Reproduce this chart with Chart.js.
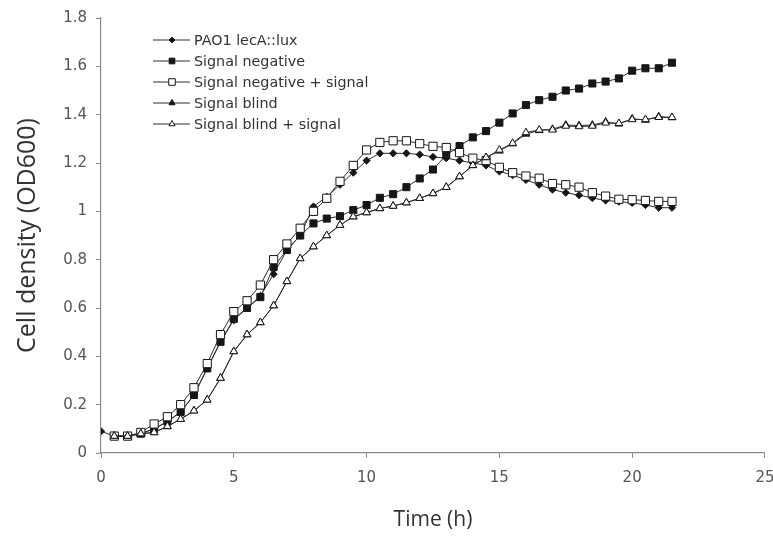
<!DOCTYPE html>
<html>
<head>
<meta charset="utf-8">
<script src="https://cdn.jsdelivr.net/npm/chart.js@4/dist/chart.umd.min.js"></script>
<style>
  html, body { margin: 0; padding: 0; background: #ffffff; }
  #wrap { width: 773px; height: 537px; }
</style>
</head>
<body>
<div id="wrap"><canvas id="growth" width="773" height="537"></canvas></div>
<script>
// Sampling times (h)
const timesWithZero = [0, 0.5, 1, 1.5, 2, 2.5, 3, 3.5, 4, 4.5, 5, 5.5, 6, 6.5, 7, 7.5, 8, 8.5, 9, 9.5, 10, 10.5,
  11, 11.5, 12, 12.5, 13, 13.5, 14, 14.5, 15, 15.5, 16, 16.5, 17, 17.5, 18, 18.5, 19, 19.5, 20, 20.5, 21, 21.5];
const times = [0.5, 1, 1.5, 2, 2.5, 3, 3.5, 4, 4.5, 5, 5.5, 6, 6.5, 7, 7.5, 8, 8.5, 9, 9.5, 10, 10.5,
  11, 11.5, 12, 12.5, 13, 13.5, 14, 14.5, 15, 15.5, 16, 16.5, 17, 17.5, 18, 18.5, 19, 19.5, 20, 20.5, 21, 21.5];

// OD600 readings
const pao1LecALux = [0.09, 0.07, 0.07, 0.08, 0.10, 0.13, 0.17, 0.24, 0.35, 0.46, 0.55, 0.60, 0.65, 0.74, 0.84, 0.90,
  1.02, 1.06, 1.11, 1.16, 1.21, 1.24, 1.24, 1.24, 1.235, 1.225, 1.22, 1.21, 1.20, 1.19, 1.165, 1.15, 1.13, 1.11,
  1.09, 1.077, 1.067, 1.055, 1.045, 1.04, 1.035, 1.026, 1.015, 1.015];
const signalNegative = [0.07, 0.07, 0.08, 0.10, 0.13, 0.17, 0.24, 0.35, 0.46, 0.555, 0.60, 0.645, 0.77, 0.84, 0.90,
  0.95, 0.97, 0.98, 1.005, 1.026, 1.056, 1.071, 1.10, 1.136, 1.173, 1.233, 1.27, 1.306, 1.332, 1.367, 1.405, 1.44,
  1.46, 1.474, 1.50, 1.508, 1.529, 1.537, 1.55, 1.582, 1.592, 1.592, 1.615];
const signalNegativePlus = [0.07, 0.07, 0.085, 0.12, 0.15, 0.20, 0.27, 0.37, 0.49, 0.585, 0.63, 0.695, 0.80, 0.865,
  0.93, 1.00, 1.054, 1.124, 1.19, 1.254, 1.285, 1.292, 1.292, 1.28, 1.269, 1.264, 1.243, 1.22, 1.21, 1.182, 1.16,
  1.146, 1.137, 1.115, 1.11, 1.10, 1.077, 1.063, 1.05, 1.048, 1.045, 1.041, 1.041];
const signalBlind = [0.07, 0.07, 0.08, 0.085, 0.11, 0.14, 0.175, 0.22, 0.31, 0.42, 0.49, 0.54, 0.61, 0.71, 0.805,
  0.854, 0.90, 0.943, 0.978, 0.995, 1.012, 1.022, 1.036, 1.054, 1.074, 1.10, 1.144, 1.19, 1.223, 1.25, 1.28, 1.32,
  1.335, 1.34, 1.357, 1.355, 1.357, 1.37, 1.362, 1.383, 1.378, 1.392, 1.388];
const signalBlindPlus = [0.07, 0.07, 0.08, 0.085, 0.11, 0.14, 0.175, 0.22, 0.31, 0.42, 0.49, 0.54, 0.61, 0.71, 0.805,
  0.854, 0.90, 0.943, 0.978, 0.995, 1.012, 1.022, 1.036, 1.054, 1.074, 1.10, 1.144, 1.19, 1.223, 1.254, 1.282, 1.326,
  1.337, 1.337, 1.353, 1.351, 1.353, 1.366, 1.364, 1.38, 1.38, 1.389, 1.389];

const seriesNames = ['PAO1 lecA::lux', 'Signal negative', 'Signal negative + signal', 'Signal blind', 'Signal blind + signal'];

const xTicks = [0, 5, 10, 15, 20, 25];
const yTicks = [0, 0.2, 0.4, 0.6, 0.8, 1, 1.2, 1.4, 1.6, 1.8];

function pairs(xs, ys) {
  return ys.map((y, i) => ({ x: xs[i], y: y }));
}

const LINE = '#2e2e2e';
const INK = '#161616';
const AXIS = '#8c8c8c';
const TEXT = '#555555';

// Later series sit on top of earlier ones (lower order is drawn last)
function series(label, xs, ys, style, radius, fill, order) {
  return {
    label: label,
    data: pairs(xs, ys),
    order: order,
    borderColor: LINE,
    borderWidth: 1,
    pointStyle: style,
    pointRadius: radius,
    pointBackgroundColor: fill,
    pointBorderColor: INK,
    pointBorderWidth: 1,
    fill: false,
    tension: 0
  };
}

const datasets = [
  series(seriesNames[0], timesWithZero, pao1LecALux, 'rectRot', 3.6, INK, 5),
  series(seriesNames[1], times, signalNegative, 'rect', 5, INK, 4),
  series(seriesNames[2], times, signalNegativePlus, 'rect', 5.8, '#ffffff', 3),
  series(seriesNames[3], times, signalBlind, 'triangle', 4.4, INK, 2),
  series(seriesNames[4], times, signalBlindPlus, 'triangle', 4.4, '#ffffff', 1)
];

// Legend drawn inside the plot area: short line with the series marker, then the name
const insideLegend = {
  id: 'insideLegend',
  afterDraw(chart) {
    const ctx = chart.ctx;
    const x0 = 153, x1 = 190, mx = 172, tx = 194;
    const top = 40, gap = 21;
    ctx.save();
    chart.data.datasets.forEach((ds, i) => {
      const y = top + i * gap;
      ctx.strokeStyle = ds.borderColor;
      ctx.lineWidth = 1;
      ctx.beginPath();
      ctx.moveTo(x0, y);
      ctx.lineTo(x1, y);
      ctx.stroke();
      ctx.fillStyle = ds.pointBackgroundColor;
      ctx.strokeStyle = ds.pointBorderColor;
      ctx.lineWidth = 1;
      Chart.helpers.drawPoint(ctx, { pointStyle: ds.pointStyle, rotation: 0, radius: ds.pointRadius * 0.8, borderWidth: 1 }, mx, y);
      ctx.fillStyle = '#333333';
      ctx.font = '14.3px "DejaVu Sans"';
      ctx.textBaseline = 'middle';
      ctx.textAlign = 'left';
      ctx.fillText(ds.label, tx, y + 1);
    });
    ctx.restore();
  }
};

new Chart(document.getElementById('growth'), {
  type: 'line',
  data: { datasets: datasets },
  plugins: [insideLegend],
  options: {
    responsive: false,
    animation: false,
    events: [],
    layout: { padding: { top: 18, right: 1, left: 13, bottom: 0 } },
    plugins: { legend: { display: false }, tooltip: { enabled: false } },
    scales: {
      x: {
        type: 'linear',
        min: 0,
        max: 25,
        afterBuildTicks(scale) { scale.ticks = xTicks.map(v => ({ value: v })); },
        afterFit(scale) { scale.height = 84; },
        border: { color: AXIS, width: 1.2 },
        grid: { drawOnChartArea: false, drawTicks: true, tickLength: 5, color: AXIS },
        ticks: { color: TEXT, font: { family: 'DejaVu Sans', size: 15, lineHeight: 2.85 }, padding: -1.5, maxRotation: 0 },
        title: { display: true, text: 'Time (h)', color: '#333333', font: { family: 'Open Sans', size: 21 }, padding: { top: 18 } }
      },
      y: {
        type: 'linear',
        min: 0,
        max: 1.8,
        afterBuildTicks(scale) { scale.ticks = yTicks.map(v => ({ value: v })); },
        afterFit(scale) { scale.width = 88; },
        border: { color: AXIS, width: 1.2 },
        grid: { drawOnChartArea: false, drawTicks: true, tickLength: 5, color: AXIS },
        ticks: {
          color: TEXT,
          font: { family: 'DejaVu Sans', size: 15 },
          padding: 9,
          callback: v => String(Number(v.toFixed(1)))
        },
        title: { display: true, text: 'Cell density (OD600)', color: '#333333', font: { family: 'Open Sans', size: 25 }, padding: { top: 0, bottom: 8 } }
      }
    }
  }
});
</script>
</body>
</html>
